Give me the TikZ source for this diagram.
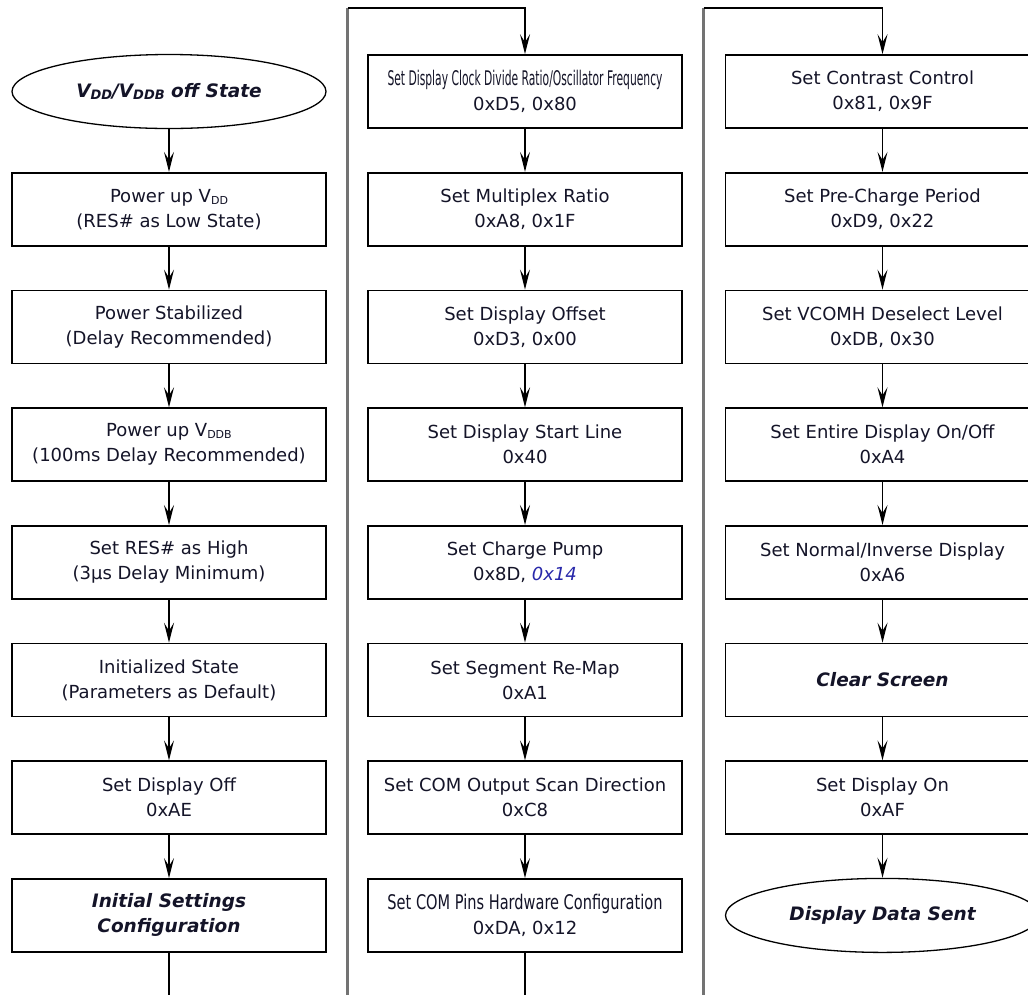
\documentclass[tikz,border=0pt]{standalone}
\usepackage{graphicx}
\usepackage{fontspec}
\setmainfont{DejaVu Sans}
\usetikzlibrary{arrows.meta,shapes.geometric}
\definecolor{txt}{RGB}{20,20,40}
\definecolor{hexblue}{RGB}{40,40,170}
\definecolor{rail}{RGB}{115,115,115}
\newcommand\lowsub[1]{\raisebox{-2pt}{\fontsize{11}{11}\selectfont #1}}
\newcommand\boldlowsub[1]{\raisebox{-2.5pt}{\fontsize{13}{13}\selectfont #1}}
\newcommand\squeeze[1]{\resizebox{275pt}{1.12\height}{#1}}
\tikzset{
 stepbox/.style={draw=black, line width=1.6pt, rectangle, minimum width=314pt, minimum height=73pt,
   inner sep=0pt, align=center, text=txt, font=\fontsize{18}{25}\selectfont},
 boldbox/.style={stepbox, font=\fontsize{18.5}{25}\selectfont\bfseries\itshape},
 termbox/.style={draw=black, line width=1.3pt, ellipse, minimum width=314pt, minimum height=74pt,
   inner sep=0pt, text=txt, font=\fontsize{18.5}{25}\selectfont\bfseries\itshape},
 flow/.style={draw=black, line width=1.4pt, -{Stealth[length=20pt,width=10pt,inset=8pt]}},
 railline/.style={draw=rail, line width=2.4pt},
 plainline/.style={draw=black, line width=1.4pt},
}
\begin{document}
\begin{tikzpicture}[x=1pt,y=-1pt]
\useasboundingbox (0,0) rectangle (1028,994);
\clip (0,0) rectangle (1028,994);
\fill[white] (0,0) rectangle (1028,994);
% column 1
\node[termbox] (a0) at (169,91.5) {V\boldlowsub{DD}/V\boldlowsub{DDB} off State};
\node[stepbox] (a1) at (169,209.2) {Power up V\lowsub{DD}\\(RES\# as Low State)};
\node[stepbox] (a2) at (169,326.9) {Power Stabilized\\(Delay Recommended)};
\node[stepbox] (a3) at (169,444.6) {Power up V\lowsub{DDB}\\(100ms Delay Recommended)};
\node[stepbox] (a4) at (169,562.3) {Set RES\# as High\\(3µs Delay Minimum)};
\node[stepbox] (a5) at (169,680) {Initialized State\\(Parameters as Default)};
\node[stepbox] (a6) at (169,797.7) {Set Display Off\\0xAE};
\node[boldbox] (a7) at (169,915.4) {Initial Settings\\Configuration};
% column 2
\node[stepbox] (b0) at (525,91.5) {\squeeze{Set Display Clock Divide Ratio/Oscillator Frequency}\\0xD5, 0x80};
\node[stepbox] (b1) at (525,209.2) {Set Multiplex Ratio\\0xA8, 0x1F};
\node[stepbox] (b2) at (525,326.9) {Set Display Offset\\0xD3, 0x00};
\node[stepbox] (b3) at (525,444.6) {Set Display Start Line\\0x40};
\node[stepbox] (b4) at (525,562.3) {Set Charge Pump\\0x8D, {\itshape\color{hexblue}0x14}};
\node[stepbox] (b5) at (525,680) {Set Segment Re-Map\\0xA1};
\node[stepbox] (b6) at (525,797.7) {Set COM Output Scan Direction\\0xC8};
\node[stepbox] (b7) at (525,915.4) {\squeeze{Set COM Pins Hardware Configuration}\\0xDA, 0x12};
% column 3
\node[stepbox] (c0) at (882.5,91.5) {Set Contrast Control\\0x81, 0x9F};
\node[stepbox] (c1) at (882.5,209.2) {Set Pre-Charge Period\\0xD9, 0x22};
\node[stepbox] (c2) at (882.5,326.9) {Set VCOMH Deselect Level\\0xDB, 0x30};
\node[stepbox] (c3) at (882.5,444.6) {Set Entire Display On/Off\\0xA4};
\node[stepbox] (c4) at (882.5,562.3) {Set Normal/Inverse Display\\0xA6};
\node[boldbox] (c5) at (882.5,680) {Clear Screen};
\node[stepbox] (c6) at (882.5,797.7) {Set Display On\\0xAF};
\node[termbox] (c7) at (882.5,915.4) {Display Data Sent};
% connectors within columns
\foreach \p/\q in {a0/a1,a1/a2,a2/a3,a3/a4,a4/a5,a5/a6,a6/a7,
                   b0/b1,b1/b2,b2/b3,b3/b4,b4/b5,b5/b6,b6/b7,
                   c0/c1,c1/c2,c2/c3,c3/c4,c4/c5,c5/c6,c6/c7}
  \draw[flow] (\p.south) -- (\q.north);
% tails leaving the bottom
\coordinate (a7end) at (169,1000);
\coordinate (b7end) at (525,1000);
\draw[plainline] (a7.south) -- (a7end);
\draw[plainline] (b7.south) -- (b7end);
% rails into the next column
\coordinate (r1b) at (347.5,1000);
\coordinate (r1t) at (347.5,8);
\coordinate (r2b) at (703.5,1000);
\coordinate (r2t) at (703.5,8);
\draw[railline] (r1b) -- (r1t);
\draw[railline] (r2b) -- (r2t);
\draw[flow] (r1t) -| (b0.north);
\draw[flow] (r2t) -| (c0.north);
\end{tikzpicture}
\end{document}
